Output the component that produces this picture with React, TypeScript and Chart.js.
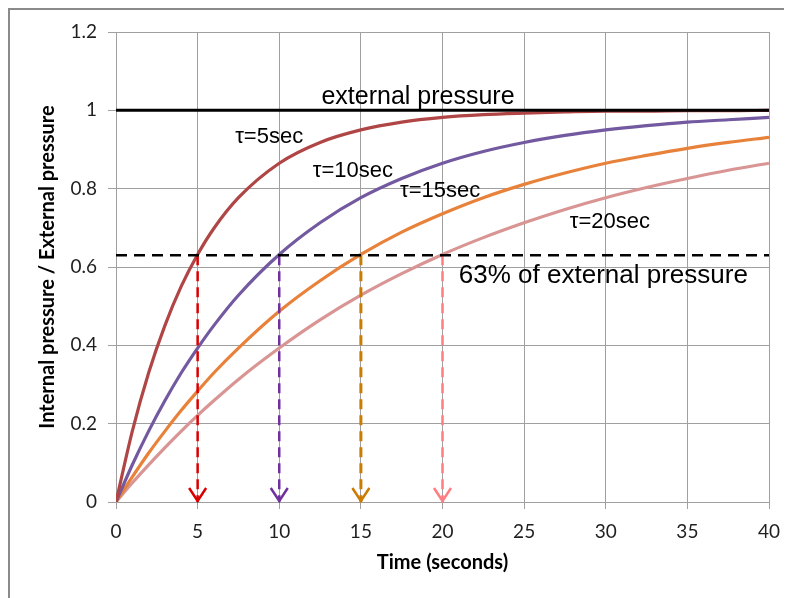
import React, { useEffect, useRef } from "react";
import { Chart, registerables } from "chart.js";

Chart.register(...registerables);

// ---- data ----
const times = [0, 1, 2, 3, 4, 5, 6, 7.5, 10, 12.5, 15, 17.5, 20, 22.5, 25, 27.5, 30, 32.5, 35, 37.5, 40];
const tau5 = [0, 0.181, 0.330, 0.451, 0.551, 0.632, 0.699, 0.777, 0.865, 0.918, 0.950, 0.970, 0.982, 0.989, 0.993, 0.996, 0.998, 0.998, 0.999, 0.999, 1.0];
const tau10 = [0, 0.095, 0.181, 0.259, 0.330, 0.393, 0.451, 0.528, 0.632, 0.713, 0.777, 0.826, 0.865, 0.895, 0.918, 0.936, 0.950, 0.961, 0.970, 0.976, 0.982];
const tau15 = [0, 0.064, 0.125, 0.181, 0.234, 0.283, 0.330, 0.393, 0.487, 0.565, 0.632, 0.689, 0.736, 0.777, 0.811, 0.840, 0.865, 0.885, 0.903, 0.918, 0.931];
const tau20 = [0, 0.049, 0.095, 0.139, 0.181, 0.221, 0.259, 0.313, 0.393, 0.465, 0.528, 0.583, 0.632, 0.675, 0.713, 0.747, 0.777, 0.803, 0.826, 0.847, 0.865];
const externalLevel = 1;
const thresholdLevel = 0.63;
const arrowTimes = [5, 10, 15, 20];
const xTickLabels = ["0", "5", "10", "15", "20", "25", "30", "35", "40"];
const yTickLabels = ["0", "0.2", "0.4", "0.6", "0.8", "1", "1.2"];
const curveLabels = ["τ=5sec", "τ=10sec", "τ=15sec", "τ=20sec"];
const curveLabelX = [7.3, 12.05, 17.4, 27.8];
const curveLabelY = [0.917, 0.829, 0.78, 0.70];
const externalText = "external pressure";
const externalTextPos = [18.5, 1.015];
const thresholdText = "63% of external pressure";
const thresholdTextPos = [21.0, 0.559];

// ---- styles ----
const curveColors = ["#B04545", "#7259A0", "#E8823A", "#D99594"];
const arrowColors = ["#D90000", "#7030A0", "#CC7A00", "#FF7C80"];
const gridColor = "#A0A0A0";
const tickFont = { family: "Lato, 'Open Sans', sans-serif", size: 19 };
const titleFont = { family: "Lato, 'Open Sans', sans-serif", size: 20, weight: "bold" };

const toXY = (ys: number[]) => ys.map((y, i) => ({ x: times[i], y }));

const annotationPlugin = {
  id: "annots",
  afterDatasetsDraw(chart: any) {
    const { ctx, scales } = chart;
    const xs = scales.x;
    const ys = scales.y;
    ctx.save();
    // arrow heads
    chart.data.datasets.forEach((ds: any, di: number) => {
      if (!ds._arrow) return;
      const meta = chart.getDatasetMeta(di);
      const end = meta.data[meta.data.length - 1];
      ctx.strokeStyle = ds.borderColor;
      ctx.lineWidth = 2.5;
      ctx.setLineDash([]);
      ctx.lineJoin = "miter";
      ctx.beginPath();
      ctx.moveTo(end.x - 8.5, end.y - 14);
      ctx.lineTo(end.x, end.y - 1);
      ctx.lineTo(end.x + 8.5, end.y - 14);
      ctx.stroke();
    });
    ctx.fillStyle = "#000";
    ctx.textAlign = "left";
    ctx.textBaseline = "alphabetic";
    ctx.font = "22px 'Liberation Sans', Arial, sans-serif";
    curveLabels.forEach((t, i) => {
      ctx.fillText(t, xs.getPixelForValue(curveLabelX[i]), ys.getPixelForValue(curveLabelY[i]));
    });
    ctx.font = "25px 'Liberation Sans', Arial, sans-serif";
    ctx.textAlign = "center";
    ctx.fillText(externalText, xs.getPixelForValue(externalTextPos[0]), ys.getPixelForValue(externalTextPos[1]));
    ctx.font = "26px 'Liberation Sans', Arial, sans-serif";
    ctx.textAlign = "left";
    ctx.fillText(thresholdText, xs.getPixelForValue(thresholdTextPos[0]), ys.getPixelForValue(thresholdTextPos[1]));
    ctx.restore();
  },
};

export default function App() {
  const ref = useRef<HTMLCanvasElement>(null);
  useEffect(() => {
    if (!ref.current) return;
    const curves = [tau5, tau10, tau15, tau20].map((ys, i) => ({
      data: toXY(ys),
      borderColor: curveColors[i],
      borderWidth: 3.2,
      pointRadius: 0,
      cubicInterpolationMode: "monotone" as const,
      fill: false,
    }));
    const arrows = arrowTimes.map((t, i) => ({
      _arrow: true,
      data: [
        { x: t, y: thresholdLevel },
        { x: t, y: 0 },
      ],
      borderColor: arrowColors[i],
      borderWidth: i === 2 ? 3 : 2.5,
      borderDash: [10, 6],
      pointRadius: 0,
      fill: false,
    }));
    const chart = new Chart(ref.current, {
      type: "line",
      data: {
        datasets: [
          {
            data: [
              { x: times[0], y: externalLevel },
              { x: times[times.length - 1], y: externalLevel },
            ],
            borderColor: "#000",
            borderWidth: 3,
            pointRadius: 0,
          },
          {
            data: [
              { x: times[0], y: thresholdLevel },
              { x: times[times.length - 1], y: thresholdLevel },
            ],
            borderColor: "#000",
            borderWidth: 2.5,
            borderDash: [11, 7],
            pointRadius: 0,
          },
          ...arrows,
          ...curves,
        ] as any,
      },
      options: {
        animation: false,
        responsive: false,
        devicePixelRatio: 1,
        layout: { padding: { top: 24, right: 23, left: 0, bottom: 0 } },
        plugins: { legend: { display: false }, tooltip: { enabled: false } },
        scales: {
          x: {
            type: "linear",
            min: 0,
            max: 40,
            ticks: {
              stepSize: 5,
              padding: 11,
              color: "#1f1f1f",
              font: tickFont,
              callback: (_v: any, i: number) => xTickLabels[i],
              maxRotation: 0,
            },
            grid: { color: gridColor, tickLength: 7, lineWidth: 1 },
            border: { color: gridColor },
            title: {
              display: true,
              text: "Time (seconds)",
              color: "#000",
              font: titleFont,
              padding: { top: 0, bottom: 23 },
            },
            afterFit: (s: any) => {
              s.height = 96;
            },
          },
          y: {
            type: "linear",
            min: 0,
            max: 1.2,
            ticks: {
              stepSize: 0.2,
              padding: 11,
              color: "#1f1f1f",
              font: tickFont,
              callback: (_v: any, i: number) => yTickLabels[i],
            },
            grid: { color: gridColor, tickLength: 8, lineWidth: 1 },
            border: { color: gridColor },
            title: {
              display: true,
              text: "Internal pressure / External pressure",
              color: "#000",
              font: titleFont,
              padding: { top: 28, bottom: 0 },
            },
            afterFit: (s: any) => {
              s.width = 108;
            },
          },
        },
      } as any,
      plugins: [annotationPlugin],
    });
    return () => chart.destroy();
  }, []);
  return (
    <div style={{ position: "relative", width: 784, height: 590, background: "#fff" }}>
      <div
        style={{
          position: "absolute",
          left: 0,
          top: 0,
          right: 0,
          bottom: 0,
          borderTop: "2px solid #8A8A8A",
          borderLeft: "2px solid #8A8A8A",
        }}
      />
      <canvas ref={ref} width={784} height={590} style={{ position: "absolute", left: 0, top: 0 }} />
    </div>
  );
}
